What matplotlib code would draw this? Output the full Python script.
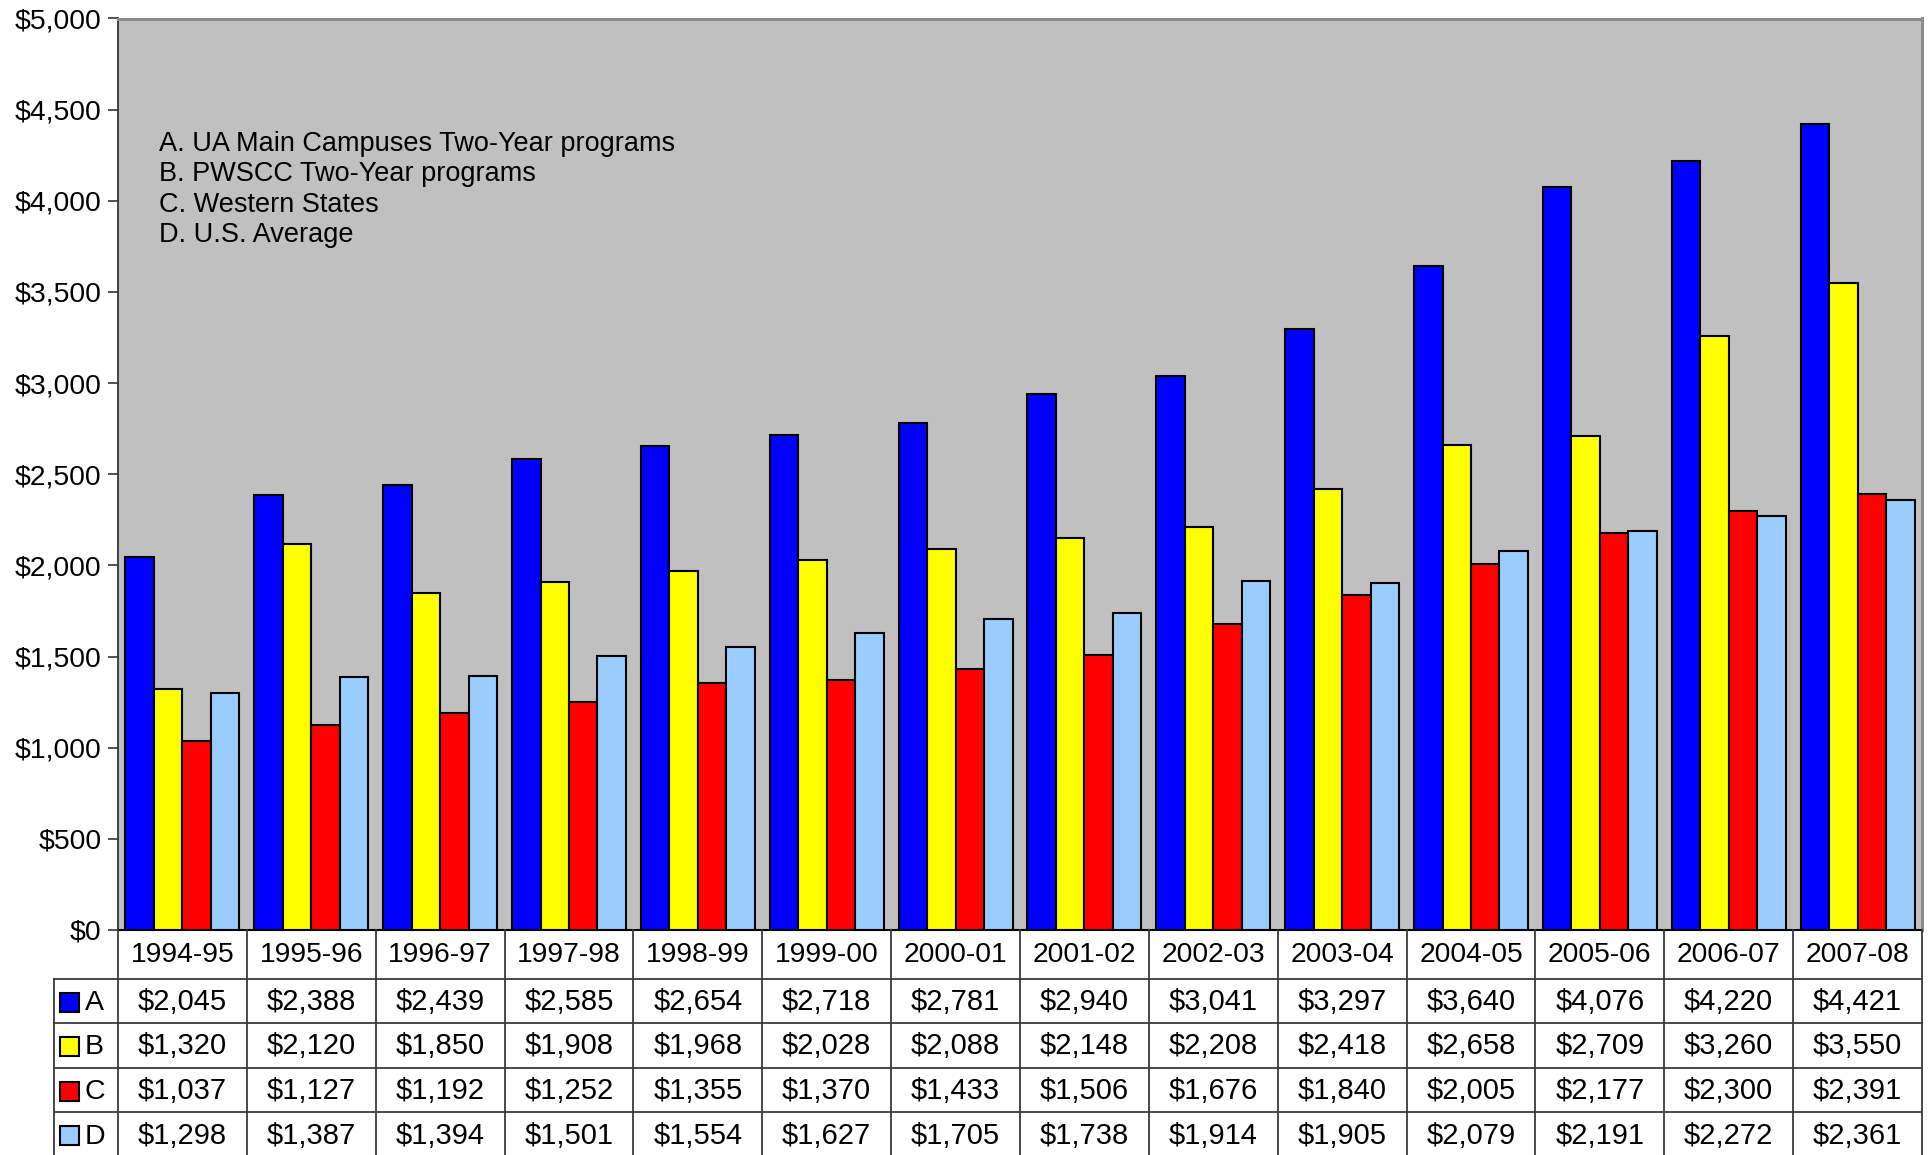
import numpy as np
import matplotlib.pyplot as plt
from matplotlib.patches import Rectangle

plt.rcParams['font.family'] = ['Liberation Sans', 'DejaVu Sans']

# data
years = ['1994-95', '1995-96', '1996-97', '1997-98', '1998-99', '1999-00', '2000-01',
         '2001-02', '2002-03', '2003-04', '2004-05', '2005-06', '2006-07', '2007-08']
a_vals = [2045, 2388, 2439, 2585, 2654, 2718, 2781, 2940, 3041, 3297, 3640, 4076, 4220, 4421]
b_vals = [1320, 2120, 1850, 1908, 1968, 2028, 2088, 2148, 2208, 2418, 2658, 2709, 3260, 3550]
c_vals = [1037, 1127, 1192, 1252, 1355, 1370, 1433, 1506, 1676, 1840, 2005, 2177, 2300, 2391]
d_vals = [1298, 1387, 1394, 1501, 1554, 1627, 1705, 1738, 1914, 1905, 2079, 2191, 2272, 2361]
series_keys = ['A', 'B', 'C', 'D']
series_names = ['A. UA Main Campuses Two-Year programs', 'B. PWSCC Two-Year programs',
                'C. Western States', 'D. U.S. Average']
colors = ['#0000FF', '#FFFF00', '#FF0000', '#99CCFF']
yticks = np.arange(0, 5001, 500)

all_vals = [a_vals, b_vals, c_vals, d_vals]

W, H = 1931, 1155
fig = plt.figure(figsize=(W / 100, H / 100), dpi=100)
fig.patch.set_facecolor('white')

# main plot area (pixel layout)
px_l, px_r, px_t, px_b = 118, 1922, 18.5, 930
ax = fig.add_axes([px_l / W, 1 - px_b / H, (px_r - px_l) / W, (px_b - px_t) / H])
ax.set_facecolor('#C0C0C0')

x = np.arange(len(years))
bw = 0.221
for k, vals in enumerate(all_vals):
    ax.bar(x + (k - 1.5) * bw, vals, width=bw, color=colors[k],
           edgecolor='black', linewidth=1.5, zorder=3)

ax.set_xlim(-0.5, len(years) - 0.5)
ax.set_ylim(0, 5000)
ax.set_xticks([])
ax.set_yticks(yticks)
ax.set_yticklabels(['${:,}'.format(v) for v in yticks], fontsize=20.4)
ax.tick_params(axis='y', direction='out', length=7, width=1.2, color='#333333', pad=5)

ax.spines['left'].set_color('#333333')
ax.spines['left'].set_linewidth(1.3)
ax.spines['bottom'].set_color('black')
ax.spines['bottom'].set_linewidth(1.5)
for s in ['top', 'right']:
    ax.spines[s].set_color('#8c8c8c')
    ax.spines[s].set_linewidth(2.2)

# series descriptions, one line each
ax_h = px_b - px_t
for i, name in enumerate(series_names):
    ypx = 144 + i * 30.4
    ax.text(0.0225, 1 - (ypx - px_t) / ax_h, name, transform=ax.transAxes,
            fontsize=19.5, va='center', ha='left')

# data table below the plot
tab_l = 54
unit = (px_r - px_l) / len(years)
x_left = -0.5 - (px_l - tab_l) / unit
tab = fig.add_axes([tab_l / W, 0, (px_r - tab_l) / W, (H - px_b) / H])
tab.set_xlim(x_left, len(years) - 0.5)
tab.set_ylim(H - px_b, 0)
tab.axis('off')

row_edges = [0, 49, 93, 138, 182, 227]
lc = '#3a3a3a'
lw = 1.3
# vertical lines
for i in range(len(years) + 1):
    tab.plot([i - 0.5, i - 0.5], [row_edges[0], row_edges[-1]], color=lc, lw=lw, clip_on=False)
tab.plot([x_left, x_left], [row_edges[1], row_edges[-1]], color=lc, lw=lw, clip_on=False)
# horizontal lines
for e in row_edges[1:-1]:
    tab.plot([x_left, len(years) - 0.5], [e, e], color=lc, lw=lw, clip_on=False)

for i, yr in enumerate(years):
    tab.text(i, (row_edges[0] + row_edges[1]) / 2 + 1, yr, ha='center', va='center', fontsize=20.3)

sq = 19 / unit
for r, (key, vals) in enumerate(zip(series_keys, all_vals)):
    yc = (row_edges[r + 1] + row_edges[r + 2]) / 2 + 1
    for i, v in enumerate(vals):
        tab.text(i, yc, '${:,}'.format(v), ha='center', va='center', fontsize=21)
    tab.add_patch(Rectangle((x_left + 6 / unit, yc - 9.5), sq, 19,
                            facecolor=colors[r], edgecolor='black', lw=1.5, clip_on=False))
    tab.text(x_left + 31 / unit, yc + 1, key, ha='left', va='center', fontsize=20.5)

fig.savefig('out.png', dpi=100)
